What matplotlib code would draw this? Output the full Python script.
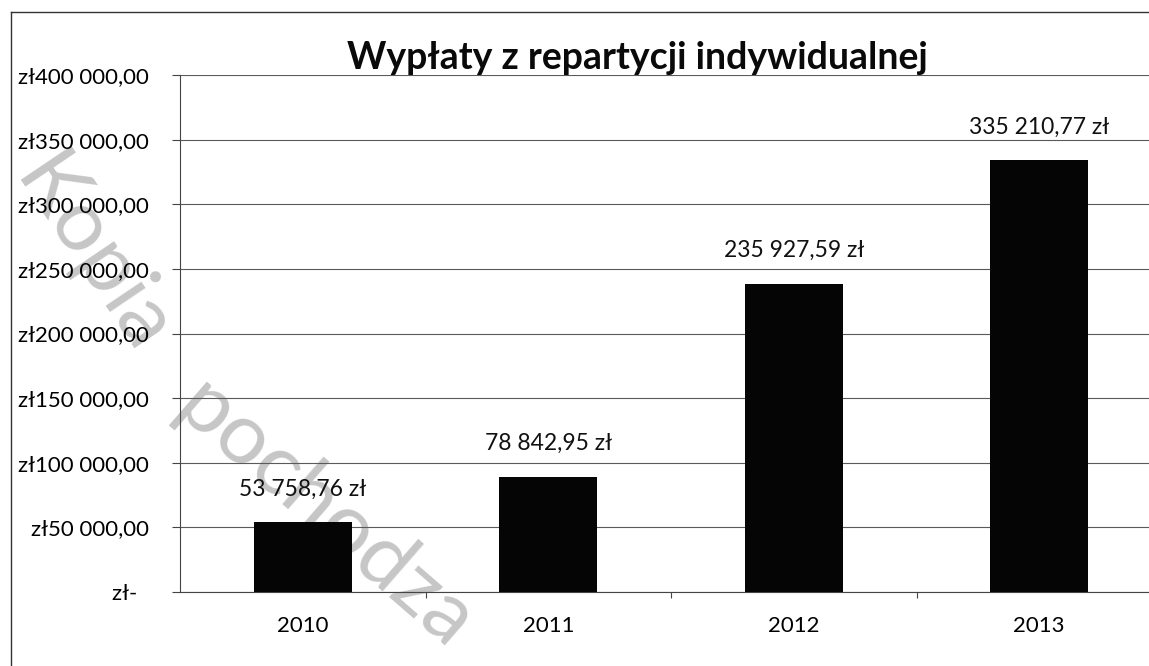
import matplotlib
import matplotlib.pyplot as plt
from matplotlib.lines import Line2D

matplotlib.use("Agg")

plt.rcParams['font.family'] = ['Lato', 'DejaVu Sans']

years = ["2010", "2011", "2012", "2013"]
# bar heights as drawn in the picture
heights = [53900, 88900, 238500, 334000]
# values printed above the bars
label_values = [53758.76, 78842.95, 235927.59, 335210.77]
y_ticks = [0, 50000, 100000, 150000, 200000, 250000, 300000, 350000, 400000]
title = "Wypłaty z repartycji indywidualnej"


def pln_axis(v):
    if v == 0:
        return "zł-  "
    return "zł" + f"{int(v):,}".replace(",", " ") + ",00"


def pln_label(v):
    s = f"{v:,.2f}".replace(",", " ").replace(".", ",")
    return s + " zł"


W, H = 1149, 666
fig = plt.figure(figsize=(W / 100, H / 100), dpi=100)
fig.patch.set_facecolor("white")

ax = fig.add_axes([180 / W, (H - 592) / H, (1162 - 180) / W, (592 - 75) / H])
ax.set_facecolor("none")

x = range(len(years))
ax.bar(x, heights, width=0.4, color="#050505", zorder=3)

for xi, h, v in zip(x, heights, label_values):
    ax.annotate(pln_label(v), (xi, h), xytext=(0, 24), textcoords="offset points",
                ha="center", va="center", fontsize=16.5, color="#111111", zorder=4)

ax.set_xlim(-0.5, len(years) - 0.5)
ax.set_ylim(0, 400000)
ax.set_yticks(y_ticks)
ax.set_yticklabels([pln_axis(v) for v in y_ticks])
ax.grid(axis="y", color="#5a5a5a", linewidth=0.8, zorder=1)

ax.set_xticks([i + 0.5 for i in range(len(years) - 1)], minor=False)
ax.set_xticklabels([])
ax.set_xticks(list(x), minor=True)
ax.set_xticklabels(years, minor=True)
ax.tick_params(axis="x", which="major", direction="out", length=4.5, color="#444444")
ax.tick_params(axis="x", which="minor", length=0, pad=17, labelsize=16)
ax.tick_params(axis="y", direction="out", length=5.8, color="#444444", pad=16.5,
               labelsize=16)

for k, v in ax.spines.items():
    v.set_visible(False)
ax.spines["left"].set_visible(True)
ax.spines["left"].set_color("#444444")
ax.spines["bottom"].set_visible(True)
ax.spines["bottom"].set_color("#444444")

fig.text(637 / W, 1 - 58 / H, title, ha="center", va="center",
         fontsize=27, fontweight="bold", color="#0a0a0a")

# outer chart border (partly cut off by the scan)
fig.add_artist(Line2D([11 / W, 11 / W], [0, 1 - 12 / H], color="#333333", lw=1))
fig.add_artist(Line2D([11 / W, 1], [1 - 12 / H, 1 - 12 / H], color="#333333", lw=1))

# scan watermark
wm = dict(fontsize=62, color="#c6c6c6", zorder=-1, rotation_mode="anchor",
          ha="center", va="center")
fig.text(92 / W, 1 - 255 / H, "Kopia", rotation=-56, **wm)
fig.text(325 / W, 1 - 515 / H, "pochodza", rotation=-41, **wm)

plt.savefig("out.png", dpi=100)
plt.close()
